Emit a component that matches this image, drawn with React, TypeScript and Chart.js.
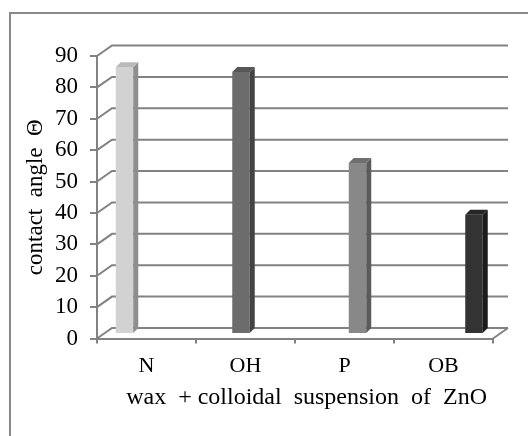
import React, { useEffect, useRef } from "react";
import { Chart, registerables } from "chart.js";

Chart.register(...registerables);

const categories = ["N", "OH", "P", "OB"];
const seriesN = [85, null, null, null];
const seriesOH = [null, 83.5, null, null];
const seriesP = [null, null, 54.5, null];
const seriesOB = [null, null, null, 38];
const yMin = 0;
const yMax = 90;
const yStep = 10;
const yTitle = "contact  angle  Θ";
const xTitle = "wax  + colloidal  suspension  of  ZnO ";

const frontColors = ["#d2d2d2", "#6c6c6c", "#888888", "#333333"];
const sideColors = ["#8e8e8e", "#444444", "#5b5b5b", "#1b1b1b"];
const topColors = ["#b9b9b9", "#575757", "#6f6f6f", "#262626"];

const GRID = "#828282";
const FONT = "'Liberation Serif', 'Times New Roman', serif";

// 3D geometry (pixels)
const BACK_DX = 15;
const BACK_DY = -10.5;
const BAR_DX = 4.25;
const BAR_DY = -4.5;
const DEPTH_DX = 5;
const DEPTH_DY = -5;

const threeD = {
  id: "threeD",
  beforeDraw(chart: any) {
    const ctx = chart.ctx;
    ctx.save();
    ctx.strokeStyle = "#8a8a8a";
    ctx.lineWidth = 2;
    ctx.strokeRect(10, 13, 700, 700);
    ctx.restore();
  },
  beforeDatasetsDraw(chart: any) {
    const ctx = chart.ctx;
    const { left, right, bottom } = chart.chartArea;
    const ys = chart.scales.y;
    ctx.save();
    ctx.strokeStyle = GRID;
    ctx.lineWidth = 2;
    ctx.lineCap = "butt";
    for (let v = yMin; v <= yMax; v += yStep) {
      const y = ys.getPixelForValue(v);
      ctx.beginPath();
      ctx.moveTo(left, y);
      ctx.lineTo(left + BACK_DX, y + BACK_DY);
      ctx.lineTo(right + BACK_DX, y + BACK_DY);
      ctx.stroke();
    }
    ctx.beginPath();
    ctx.moveTo(right, bottom);
    ctx.lineTo(right + BACK_DX, bottom + BACK_DY);
    ctx.stroke();
    ctx.restore();
    ctx.save();
    ctx.translate(BAR_DX, BAR_DY);
  },
  afterDatasetsDraw(chart: any) {
    const ctx = chart.ctx;
    chart.data.datasets.forEach((ds: any, di: number) => {
      const meta = chart.getDatasetMeta(di);
      meta.data.forEach((el: any, i: number) => {
        if (ds.data[i] == null) return;
        const { x, y, base, width } = el.getProps(["x", "y", "base", "width"], true);
        const l = x - width / 2;
        const r = x + width / 2;
        ctx.fillStyle = sideColors[di];
        ctx.beginPath();
        ctx.moveTo(r, y);
        ctx.lineTo(r + DEPTH_DX, y + DEPTH_DY);
        ctx.lineTo(r + DEPTH_DX, base + DEPTH_DY);
        ctx.lineTo(r, base);
        ctx.closePath();
        ctx.fill();
        ctx.fillStyle = topColors[di];
        ctx.beginPath();
        ctx.moveTo(l, y);
        ctx.lineTo(l + DEPTH_DX, y + DEPTH_DY);
        ctx.lineTo(r + DEPTH_DX, y + DEPTH_DY);
        ctx.lineTo(r, y);
        ctx.closePath();
        ctx.fill();
      });
    });
    ctx.restore();
  },
};

export default function App() {
  const ref = useRef<HTMLCanvasElement>(null);
  useEffect(() => {
    const canvas = ref.current;
    if (!canvas) return;
    const mk = (label: string, data: (number | null)[], i: number) => ({
      label,
      data,
      backgroundColor: frontColors[i],
      borderWidth: 0,
      categoryPercentage: 0.707,
      barPercentage: 1,
      clip: false as any,
    });
    const chart = new Chart(canvas, {
      type: "bar",
      data: {
        labels: categories,
        datasets: [
          mk("N", seriesN, 0),
          mk("OH", seriesOH, 1),
          mk("P", seriesP, 2),
          mk("OB", seriesOB, 3),
        ],
      },
      plugins: [threeD],
      options: {
        animation: false,
        responsive: false,
        devicePixelRatio: 1,
        layout: { padding: { top: 56, right: 35, bottom: 0, left: 0 } },
        plugins: { legend: { display: false }, tooltip: { enabled: false } },
        scales: {
          x: {
            afterFit: (s: any) => {
              s.height = 97.5;
            },
            grid: {
              offset: true,
              drawOnChartArea: false,
              drawTicks: true,
              tickLength: 5,
              color: GRID,
              lineWidth: 2,
            },
            border: { display: true, color: GRID, width: 2 },
            ticks: { color: "#000", font: { family: FONT, size: 22 }, padding: 9.5 },
            title: {
              display: true,
              text: xTitle,
              align: "end",
              color: "#000",
              font: { family: FONT, size: 24 },
              padding: { top: 0, bottom: 23.5 },
            },
          },
          y: {
            min: yMin,
            max: yMax,
            afterFit: (s: any) => {
              s.width = 97;
            },
            grid: {
              drawOnChartArea: false,
              drawTicks: true,
              tickLength: 7,
              color: GRID,
              lineWidth: 2,
            },
            border: { display: true, color: GRID, width: 2 },
            ticks: {
              stepSize: yStep,
              color: "#000",
              font: { family: FONT, size: 23 },
              padding: 12,
            },
            title: {
              display: true,
              text: yTitle,
              color: "#000",
              font: { family: FONT, size: 23 },
              padding: { top: 22, bottom: 0 },
            },
          },
        },
      },
    });
    return () => chart.destroy();
  }, []);
  return (
    <div style={{ position: "fixed", left: 0, top: 0, width: 528, height: 436, background: "#fff" }}>
      <canvas ref={ref} width={528} height={436} style={{ width: 528, height: 436 }} />
    </div>
  );
}
